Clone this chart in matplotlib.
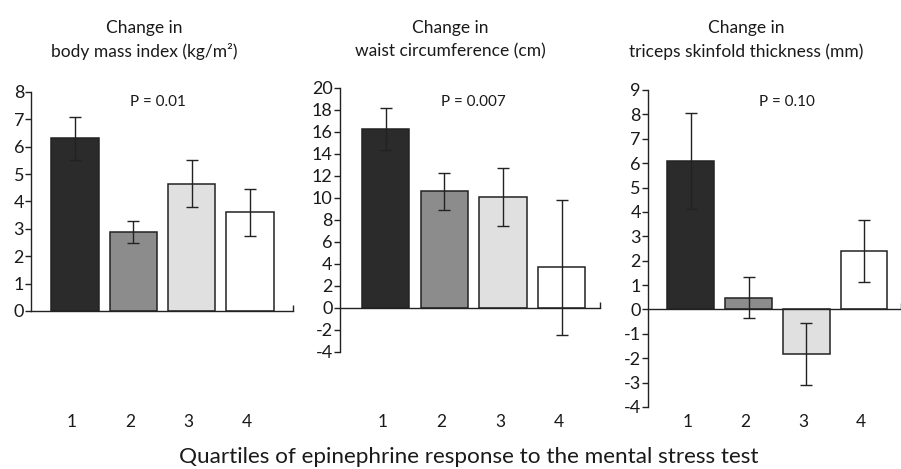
import matplotlib.pyplot as plt
from matplotlib.transforms import blended_transform_factory

plt.rcParams['font.family'] = ['Lato', 'DejaVu Sans']
plt.rcParams['axes.unicode_minus'] = False

quartiles = ['1', '2', '3', '4']
bar_colors = ['#2b2b2b', '#8c8c8c', '#e0e0e0', '#ffffff']

bmi = [6.3, 2.9, 4.65, 3.6]
bmi_err = [0.8, 0.4, 0.85, 0.85]

waist = [16.3, 10.6, 10.1, 3.7]
waist_err = [1.9, 1.7, 2.65, 6.15]

triceps = [6.07, 0.48, -1.83, 2.4]
triceps_err = [1.97, 0.85, 1.27, 1.27]

titles = ['Change in\nbody mass index (kg/m²)',
          'Change in\nwaist circumference (cm)',
          'Change in\ntriceps skinfold thickness (mm)']
p_labels = ['P = 0.01', 'P = 0.007', 'P = 0.10']

fig = plt.figure(figsize=(9.01, 4.69), dpi=100)

panels = [
    dict(rect=[0.0344, 0.337, 0.291, 0.467], vals=bmi, err=bmi_err,
         ylim=(0, 8), yticks=range(0, 9), xlim=(0.245, 4.74), title_x=0.160, p_x=0.175),
    dict(rect=[0.377, 0.2495, 0.2886, 0.563], vals=waist, err=waist_err,
         ylim=(-4, 20), yticks=range(-4, 21, 2), xlim=(0.216, 4.65), title_x=0.500, p_x=0.525),
    dict(rect=[0.719, 0.1322, 0.281, 0.676], vals=triceps, err=triceps_err,
         ylim=(-4, 9), yticks=range(-4, 10), xlim=(0.255, 4.64), title_x=0.828, p_x=0.873),
]

xpos = [1, 2, 3, 4]
txt = '#1a1a1a'

for i, p in enumerate(panels):
    ax = fig.add_axes(p['rect'])
    ax.bar(xpos, p['vals'], width=0.81, color=bar_colors, edgecolor='#222222',
           linewidth=1.1, zorder=2)
    ax.errorbar(xpos, p['vals'], yerr=p['err'], fmt='none', ecolor='#222222',
                elinewidth=1.0, capsize=4, capthick=1.0, zorder=3)
    ax.set_ylim(*p['ylim'])
    ax.set_xlim(*p['xlim'])
    ax.set_yticks(list(p['yticks']))
    ax.spines['top'].set_visible(False)
    ax.spines['right'].set_visible(False)
    ax.spines['bottom'].set_position(('data', 0))
    for s in ('left', 'bottom'):
        ax.spines[s].set_linewidth(1.0)
        ax.spines[s].set_color('#222222')
    ax.tick_params(axis='y', length=4, width=1.0, color='#222222',
                   labelsize=13, labelcolor=txt, pad=1)
    # small end mark at the right of the zero line
    ax.set_xticks([p['xlim'][1]])
    ax.set_xticklabels([''])
    ax.tick_params(axis='x', direction='in', length=4, width=1.0, color='#222222')
    ax.patch.set_alpha(0)

    # quartile labels, all on one row
    tr = blended_transform_factory(ax.transData, fig.transFigure)
    for x, lab in zip(xpos, quartiles):
        ax.text(x - 0.05, 0.1, lab, transform=tr, ha='center', va='center',
                fontsize=12.5, color=txt)

    fig.text(p['title_x'], 0.915, titles[i], ha='center', va='center',
             fontsize=12.5, color=txt, linespacing=1.55)
    fig.text(p['p_x'], 0.782, p_labels[i], ha='center', va='center',
             fontsize=11, color=txt)

fig.text(0.52, 0.025, 'Quartiles of epinephrine response to the mental stress test',
         ha='center', va='center', fontsize=16.2, color=txt)

fig.savefig('out.png', dpi=100)
